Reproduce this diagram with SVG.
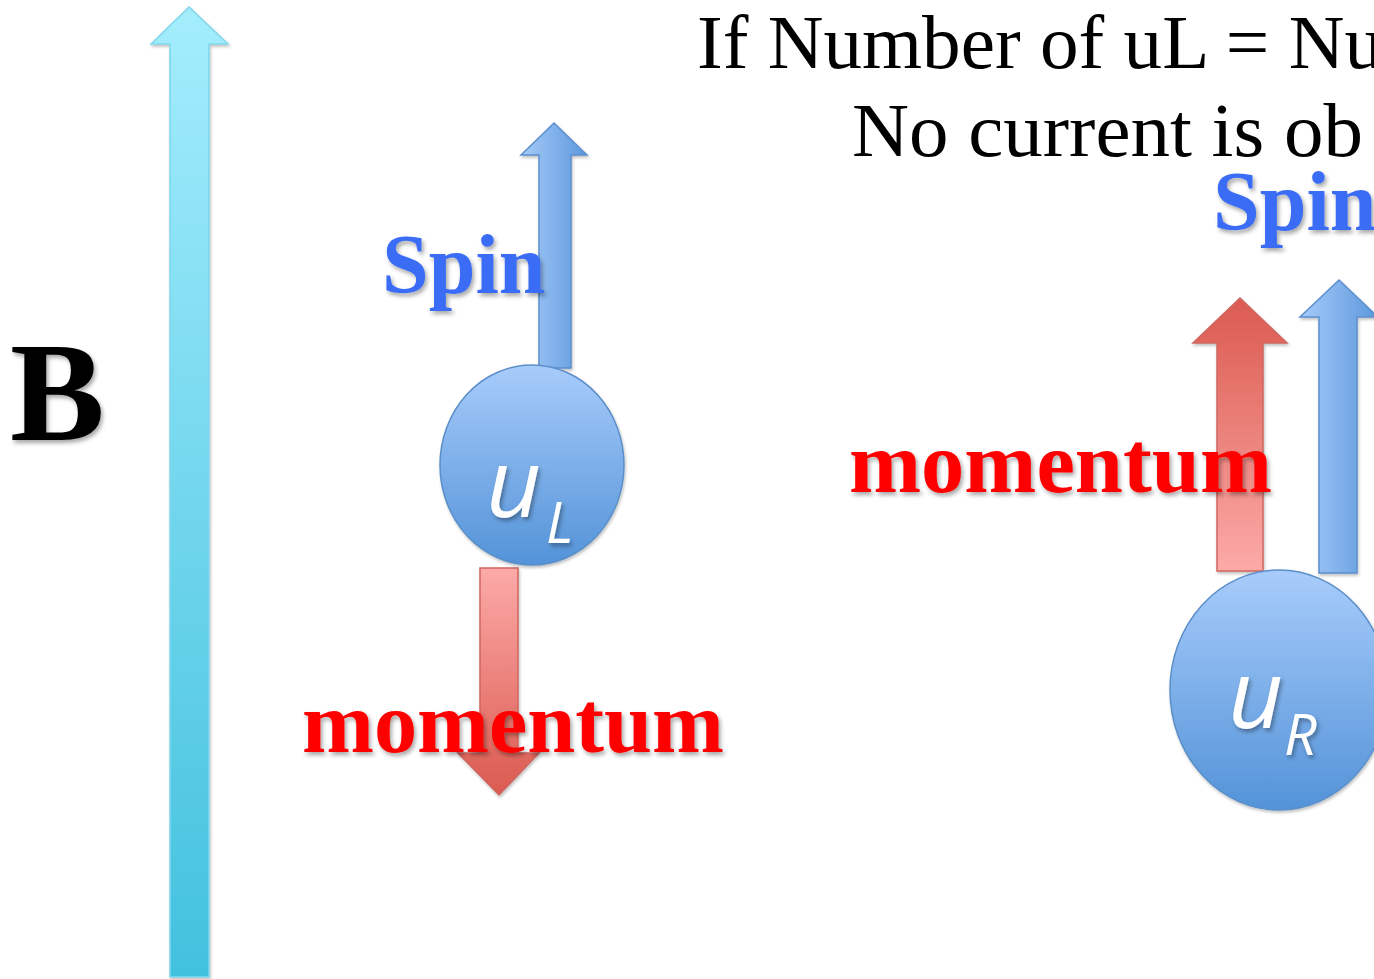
<svg xmlns="http://www.w3.org/2000/svg" width="1374" height="979" viewBox="0 0 1374 979">
<defs>
<linearGradient id="gCyan" x1="0" y1="0" x2="0" y2="1"><stop offset="0" stop-color="#a4edfd"/><stop offset="1" stop-color="#42c1de"/></linearGradient>
<linearGradient id="gBlueH" x1="0" y1="0" x2="1" y2="0"><stop offset="0" stop-color="#a6cbf9"/><stop offset="1" stop-color="#5c98dc"/></linearGradient>
<linearGradient id="gCircle" x1="0" y1="0" x2="0" y2="1"><stop offset="0" stop-color="#a8ccfb"/><stop offset="1" stop-color="#5393d8"/></linearGradient>
<linearGradient id="gRedDown" x1="0" y1="0" x2="0" y2="1"><stop offset="0" stop-color="#fcaaa8"/><stop offset="1" stop-color="#db5a4f"/></linearGradient>
<linearGradient id="gRedUp" x1="0" y1="1" x2="0" y2="0"><stop offset="0" stop-color="#fcaaa8"/><stop offset="1" stop-color="#db5a4f"/></linearGradient>
<filter id="sh" x="-20%" y="-20%" width="140%" height="140%"><feDropShadow dx="2" dy="3" stdDeviation="2" flood-color="#000" flood-opacity="0.35"/></filter>
<filter id="shs" x="-20%" y="-20%" width="140%" height="140%"><feDropShadow dx="1" dy="2" stdDeviation="1.5" flood-color="#000" flood-opacity="0.25"/></filter>
</defs>
<style>
.title{font-family:"Liberation Serif",serif;font-size:76px;fill:#000}
.spin{font-family:"Liberation Serif",serif;font-weight:bold;font-size:84px;fill:#3a6cf5}
.mom{font-family:"Liberation Serif",serif;font-weight:bold;font-size:86px;fill:#ff0000}
.q{font-family:"Open Sans","DejaVu Sans",sans-serif;font-style:italic;fill:#fff}
.blue{stroke:#5b8fd0;stroke-width:1.5}
.red{stroke:#cf6560;stroke-width:1.5}
</style>
<rect width="1374" height="979" fill="#fff"/>

<g id="field-B">
<path d="M170,44 L151,44 L189,7 L228,44 L209,44 L209,977 L170,977 Z" fill="url(#gCyan)" stroke="#7fd6ec" stroke-width="1.5" filter="url(#shs)"/>
<text x="10" y="440" font-family="Liberation Serif,serif" font-weight="bold" font-size="142" fill="#000" filter="url(#sh)">B</text>
</g>

<g id="title">
<text class="title" x="697" y="68" textLength="686" lengthAdjust="spacingAndGlyphs">If Number of uL = Nu</text>
<text class="title" x="852" y="156" textLength="511" lengthAdjust="spacingAndGlyphs">No current is ob</text>
</g>

<g id="uL">
<path d="M539,155 L521,155 L554,123 L587,155 L571,155 L571,368 L539,368 Z" class="blue" fill="url(#gBlueH)" filter="url(#shs)"/>
<path d="M480,568 L518,568 L518,753 L539,753 L499,795 L458,753 L480,753 Z" class="red" fill="url(#gRedDown)" filter="url(#shs)"/>
<ellipse cx="532" cy="465" rx="92" ry="100" fill="url(#gCircle)" stroke="#5b8fc9" stroke-width="1.5" filter="url(#shs)"/>
<text class="q" x="486" y="517" font-size="96" filter="url(#sh)">u</text>
<text class="q" x="546" y="543" font-size="57" filter="url(#sh)">L</text>
<text class="spin" x="382" y="293" filter="url(#sh)">Spin</text>
<text class="mom" x="302" y="752" textLength="422" lengthAdjust="spacingAndGlyphs" filter="url(#sh)">momentum</text>
</g>

<g id="uR">
<path d="M1217,343 L1193,343 L1240,298 L1287,343 L1263,343 L1263,571 L1217,571 Z" class="red" fill="url(#gRedUp)" filter="url(#shs)"/>
<path d="M1319,317 L1300,317 L1339,280 L1378,317 L1357,317 L1357,573 L1319,573 Z" class="blue" fill="url(#gBlueH)" filter="url(#shs)"/>
<ellipse cx="1279" cy="690" rx="109" ry="120" fill="url(#gCircle)" stroke="#5b8fc9" stroke-width="1.5" filter="url(#shs)"/>
<text class="q" x="1228" y="728" font-size="96" filter="url(#sh)">u</text>
<text class="q" x="1284" y="755" font-size="57" filter="url(#sh)">R</text>
<text class="spin" x="1213" y="230" filter="url(#sh)">Spin</text>
<text class="mom" x="849" y="492" textLength="423" lengthAdjust="spacingAndGlyphs" filter="url(#sh)">momentum</text>
</g>
</svg>
